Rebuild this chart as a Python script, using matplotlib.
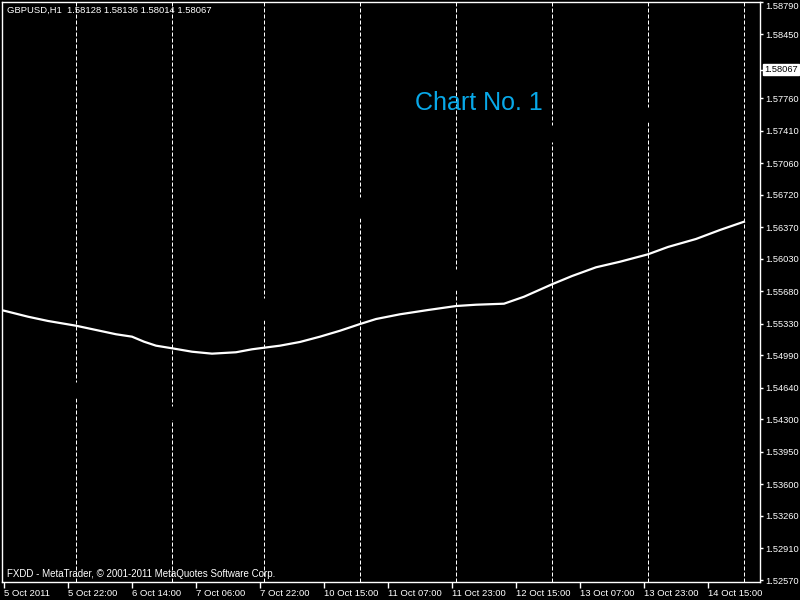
import matplotlib
matplotlib.use("Agg")
import matplotlib.pyplot as plt
from matplotlib.transforms import blended_transform_factory

plt.rcParams['font.family'] = ['Liberation Sans', 'DejaVu Sans']

# ---- data (bar index -> price) ----
ma_bar = [0, 6, 11, 18, 23, 28, 32, 35, 38, 42, 47, 52, 58, 62, 65, 69, 74, 79,
          84, 89, 93, 99, 106, 113, 118, 125, 130, 137, 142, 148, 154, 161, 166,
          173, 179, 185]
ma_value = [1.55471, 1.55406, 1.55360, 1.55309, 1.55263, 1.55217, 1.55191,
            1.55137, 1.55094, 1.55066, 1.55029, 1.55008, 1.55023, 1.55055,
            1.55072, 1.55094, 1.55134, 1.55191, 1.55255, 1.55327, 1.55381,
            1.55432, 1.55478, 1.55521, 1.55535, 1.55546, 1.55621, 1.55755,
            1.55844, 1.55938, 1.55998, 1.56078, 1.56157, 1.56243, 1.56340,
            1.56429]

# black (invisible) price bars that hide the grid where they cross it
bar_idx = [18, 42, 65, 89, 113, 137, 161]
bar_high = [1.54703, 1.54444, 1.55607, 1.56698, 1.55920, 1.57471, 1.57668]
bar_low = [1.54530, 1.54294, 1.55371, 1.56469, 1.55694, 1.57291, 1.57506]

grid_bars = [18, 42, 65, 89, 113, 137, 161, 185]

x_tick_bars = [0, 16, 32, 48, 64, 80, 96, 112, 128, 144, 160, 176]
x_tick_labels = ["5 Oct 2011", "5 Oct 22:00", "6 Oct 14:00", "7 Oct 06:00",
                 "7 Oct 22:00", "10 Oct 15:00", "11 Oct 07:00", "11 Oct 23:00",
                 "12 Oct 15:00", "13 Oct 07:00", "13 Oct 23:00", "14 Oct 15:00"]

y_ticks = [1.58790, 1.58450, 1.57760, 1.57410, 1.57060, 1.56720, 1.56370,
           1.56030, 1.55680, 1.55330, 1.54990, 1.54640, 1.54300, 1.53950,
           1.53600, 1.53260, 1.52910, 1.52570]
current_price = 1.58067

title = "GBPUSD,H1  1.58128 1.58136 1.58014 1.58067"
footer = "FXDD - MetaTrader, \u00a9 2001-2011 MetaQuotes Software Corp."
label = "Chart No. 1"

# ---- figure ----
W, H = 800, 600
fig = plt.figure(figsize=(8, 6), dpi=100, facecolor='black')
ax = fig.add_axes([2 / W, (H - 582) / H, 758 / W, 580 / H], facecolor='black')

ax.set_xlim(-0.5, 189)
ax.set_ylim(1.52549, 1.58795)

for s in ax.spines.values():
    s.set_color('white')
    s.set_linewidth(1.0)

# grid
for gb in grid_bars:
    ax.axvline(gb, color='white', lw=0.72, linestyle=(0, (4, 2)), zorder=1)

# hidden black bars
ax.vlines(bar_idx, bar_low, bar_high, colors='black', lw=2.5, zorder=2)

# moving average line
ax.plot(ma_bar, ma_value, color='white', lw=1.6, zorder=3, solid_joinstyle='miter')

# axes ticks
ax.yaxis.tick_right()
ax.set_yticks(y_ticks + [current_price])
ax.set_yticklabels([f"{v:.5f}" for v in y_ticks] + [""])
ax.tick_params(axis='y', colors='white', direction='out', length=2.5, width=1,
               labelsize=6.7, pad=1)
ylabels = ax.get_yticklabels()
ylabels[0].set_va('top')
ax.set_xticks(x_tick_bars)
ax.set_xticklabels(x_tick_labels, ha='left')
ax.tick_params(axis='x', colors='white', direction='out', length=4, width=1,
               labelsize=6.8, pad=1)

# current price box
tr = blended_transform_factory(ax.transAxes, ax.transData)
ax.text(1.0 + 4 / 758, current_price, f"{current_price:.5f}", transform=tr,
        ha='left', va='center', fontsize=6.7, color='black',
        bbox=dict(boxstyle='square,pad=0.15', fc='white', ec='white'),
        clip_on=False, zorder=5)

# texts
fig.text(7 / W, 1 - 10 / H, title, color='white', fontsize=6.8, ha='left', va='center')
fig.text(7 / W, 1 - 574 / H, footer, color='white', fontsize=7, ha='left', va='center')
fig.text(415 / W, 1 - 103 / H, label, color='#08A8E8', fontsize=18, ha='left', va='center')

fig.savefig('out.png', dpi=100, facecolor='black')
